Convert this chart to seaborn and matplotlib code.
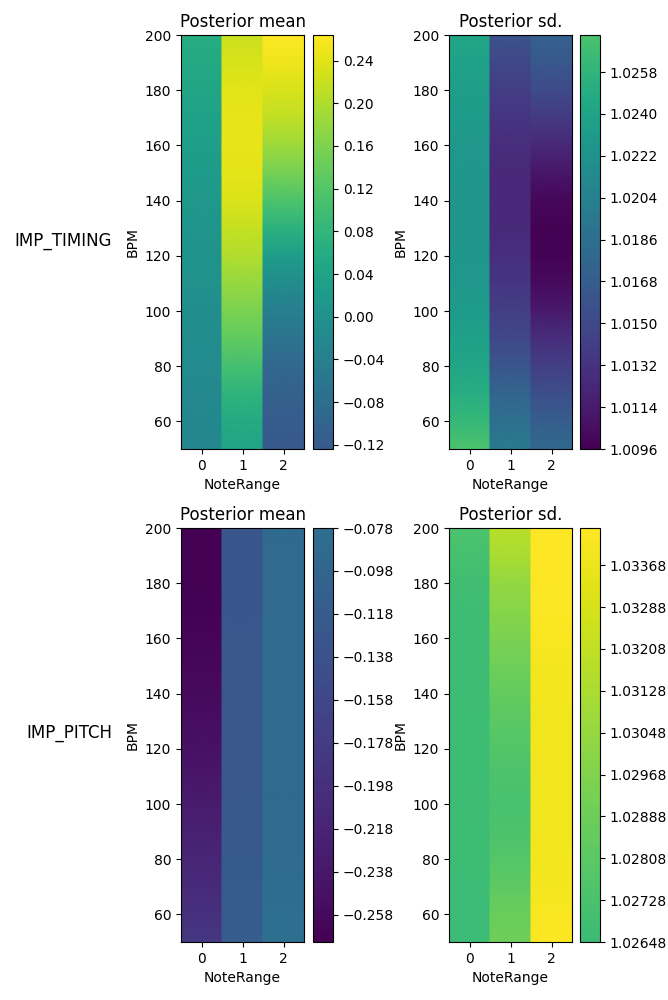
import numpy as np
import matplotlib
matplotlib.use("Agg")
import matplotlib.pyplot as plt
import matplotlib.colors as mcolors
import matplotlib.cm as cm
import seaborn as sns

sns.set_style("white", rc={
    "axes.edgecolor": "black", "text.color": "black", "axes.labelcolor": "black",
    "xtick.color": "black", "ytick.color": "black",
    "xtick.bottom": True, "ytick.left": True,
    "xtick.direction": "out", "ytick.direction": "out",
    "axes.linewidth": 0.8,
})
plt.rcParams["font.family"] = ["DejaVu Sans"]

# ---------------- data ----------------
bpm = [50, 60, 70, 80, 90, 100, 110, 120, 130, 140, 150, 160, 170, 180, 190, 200]
note_range = [0, 1, 2]
row_labels = ["IMP_TIMING", "IMP_PITCH"]

# IMP_TIMING posterior mean, one list per NoteRange column (values at bpm)
timing_mean_0 = [-0.025, -0.022, -0.020, -0.016, -0.012, -0.008, -0.003, 0.002,
                 0.008, 0.014, 0.020, 0.027, 0.035, 0.043, 0.052, 0.060]
timing_mean_1 = [0.040, 0.055, 0.075, 0.105, 0.133, 0.157, 0.180, 0.200,
                 0.218, 0.233, 0.242, 0.245, 0.245, 0.240, 0.232, 0.222]
timing_mean_2 = [-0.124, -0.118, -0.108, -0.092, -0.068, -0.042, -0.012, 0.025,
                 0.070, 0.112, 0.152, 0.185, 0.212, 0.232, 0.250, 0.264]

# IMP_TIMING posterior sd
timing_sd_0 = [1.02739, 1.0262, 1.0250, 1.0242, 1.0236, 1.0231, 1.0228, 1.0226,
               1.0225, 1.0225, 1.0226, 1.0228, 1.0231, 1.0234, 1.0238, 1.0243]
timing_sd_1 = [1.0196, 1.0187, 1.0175, 1.0162, 1.0150, 1.0141, 1.0134, 1.0129,
               1.0125, 1.0124, 1.0125, 1.0128, 1.0133, 1.0140, 1.0149, 1.0158]
timing_sd_2 = [1.0180, 1.0168, 1.0156, 1.0142, 1.0128, 1.0113, 1.0102, 1.0097,
               1.0096, 1.0100, 1.0110, 1.0124, 1.0138, 1.0152, 1.0163, 1.0172]

# IMP_PITCH posterior mean
pitch_mean_0 = [-0.185, -0.196, -0.206, -0.216, -0.224, -0.232, -0.240, -0.247,
                -0.253, -0.258, -0.262, -0.265, -0.268, -0.2695, -0.2703, -0.2706]
pitch_mean_1 = [-0.115, -0.118, -0.120, -0.122, -0.123, -0.124, -0.125, -0.125,
                -0.125, -0.125, -0.126, -0.126, -0.127, -0.127, -0.128, -0.128]
pitch_mean_2 = [-0.078, -0.080, -0.082, -0.084, -0.085, -0.086, -0.087, -0.088,
                -0.088, -0.088, -0.088, -0.088, -0.088, -0.087, -0.087, -0.086]

# IMP_PITCH posterior sd
pitch_sd_0 = [1.02648, 1.0265, 1.0265, 1.0266, 1.0266, 1.0267, 1.0266, 1.0266,
              1.0266, 1.0267, 1.0267, 1.0267, 1.0267, 1.0268, 1.0271, 1.0274]
pitch_sd_1 = [1.0289, 1.0287, 1.0282, 1.0278, 1.0274, 1.0272, 1.0274, 1.0277,
              1.0280, 1.0284, 1.0289, 1.0294, 1.0299, 1.0304, 1.0312, 1.0317]
pitch_sd_2 = [1.0342, 1.0341, 1.0340, 1.0340, 1.0339, 1.0339, 1.0339, 1.0339,
              1.0339, 1.0340, 1.0340, 1.0341, 1.0342, 1.0343, 1.0343, 1.03439]

# colorbar ticks
ticks_timing_mean = [-0.12, -0.08, -0.04, 0.00, 0.04, 0.08, 0.12, 0.16, 0.20, 0.24]
ticks_timing_sd = [1.0096, 1.0114, 1.0132, 1.0150, 1.0168, 1.0186, 1.0204, 1.0222, 1.0240, 1.0258]
ticks_pitch_mean = [-0.258, -0.238, -0.218, -0.198, -0.178, -0.158, -0.138, -0.118, -0.098, -0.078]
ticks_pitch_sd = [1.02648, 1.02728, 1.02808, 1.02888, 1.02968, 1.03048, 1.03128, 1.03208, 1.03288, 1.03368]

titles = ["Posterior mean", "Posterior sd."]

panels = {
    (0, 0): ([timing_mean_0, timing_mean_1, timing_mean_2], ticks_timing_mean, 2),
    (0, 1): ([timing_sd_0, timing_sd_1, timing_sd_2], ticks_timing_sd, 4),
    (1, 0): ([pitch_mean_0, pitch_mean_1, pitch_mean_2], ticks_pitch_mean, 3),
    (1, 1): ([pitch_sd_0, pitch_sd_1, pitch_sd_2], ticks_pitch_sd, 5),
}

# shared norms per statistic (column of the grid)
norms = {}
for c in range(2):
    vals = np.concatenate([np.ravel(panels[(r, c)][0]) for r in range(2)])
    norms[c] = mcolors.Normalize(vmin=vals.min(), vmax=vals.max())

cmap = sns.color_palette("viridis", as_cmap=True)

W, H = 668, 1000
fig = plt.figure(figsize=(W / 100, H / 100), dpi=100)

ax_left = {0: 181, 1: 449}
cb_left = {0: 313, 1: 580}
row_top = {0: 35, 1: 528}
ax_w, ax_h, cb_w = 123, 414, 20

bpm_arr = np.array(bpm, dtype=float)
for (r, c), (cols, ticks, dec) in panels.items():
    ax = fig.add_axes([ax_left[c] / W, 1 - (row_top[r] + ax_h) / H, ax_w / W, ax_h / H])
    cax = fig.add_axes([cb_left[c] / W, 1 - (row_top[r] + ax_h) / H, cb_w / W, ax_h / H])
    norm = norms[c]
    for i, col in enumerate(cols):
        x = np.array([note_range[i] - 0.5, note_range[i] + 0.5])
        C = np.column_stack([col, col])
        ax.pcolormesh(x, bpm_arr, C, shading="gouraud", cmap=cmap, norm=norm)
    ax.set_xlim(-0.5, 2.5)
    ax.set_ylim(50, 200)
    ax.set_xticks(note_range)
    ax.set_yticks([60, 80, 100, 120, 140, 160, 180, 200])
    ax.tick_params(labelsize=10, length=3.5, width=0.8)
    ax.set_xlabel("NoteRange", fontsize=10)
    ax.set_ylabel("BPM", fontsize=10)
    ax.set_title(titles[c], fontsize=12)
    for s in ax.spines.values():
        s.set_visible(True)

    allv = np.ravel(cols)
    lo, hi = allv.min(), allv.max()
    sm = cm.ScalarMappable(norm=norm, cmap=cmap)
    cb = fig.colorbar(sm, cax=cax, boundaries=np.linspace(lo, hi, 300))
    cb.set_ticks(ticks)
    cb.set_ticklabels([f"{t:.{dec}f}".replace("-", "\u2212") for t in ticks])
    cb.ax.tick_params(labelsize=10, length=3.5, width=0.8)
    cb.outline.set_edgecolor("black")
    cb.outline.set_linewidth(0.8)

fig.text(112 / W, 1 - 241 / H, row_labels[0], fontsize=12, ha="right", va="center")
fig.text(112 / W, 1 - 733 / H, row_labels[1], fontsize=12, ha="right", va="center")

fig.savefig("out.png", dpi=100)
